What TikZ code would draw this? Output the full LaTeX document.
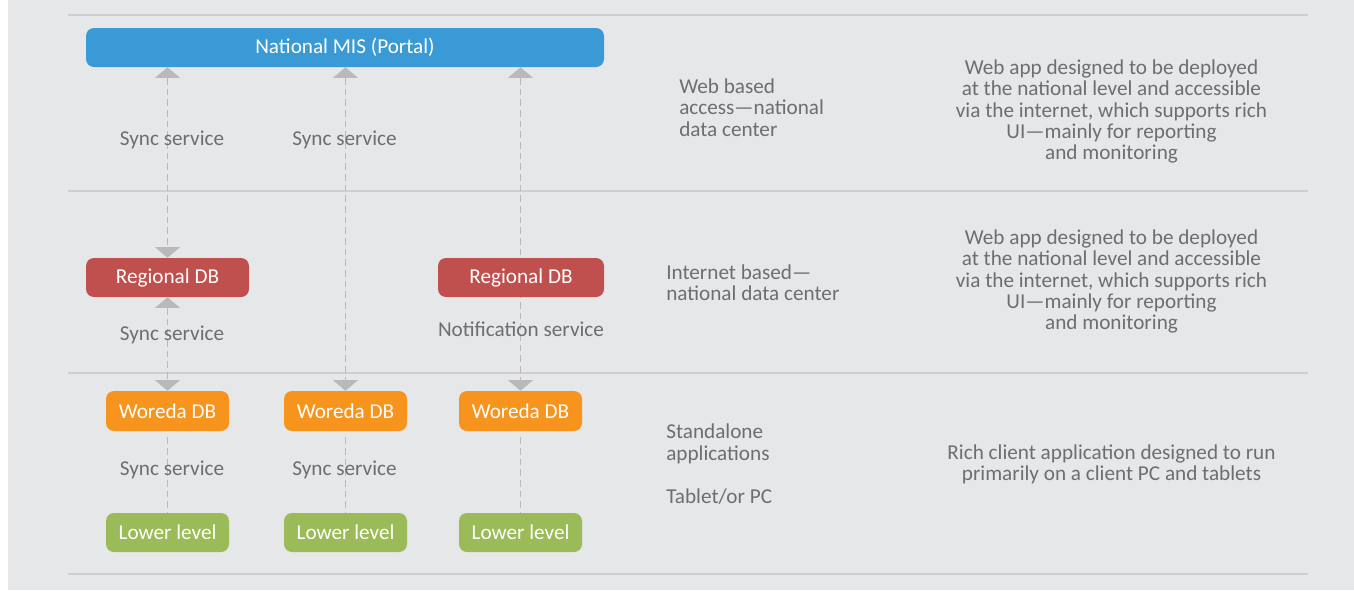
\documentclass[tikz,border=0pt]{standalone}
\usepackage{fontspec}
\setmainfont{Carlito}
\usetikzlibrary{arrows.meta}
\definecolor{bgc}{HTML}{E6E7E8}
\definecolor{rulec}{HTML}{CFCFD1}
\definecolor{txtc}{HTML}{6D6E71}
\definecolor{connc}{HTML}{B9B9BB}
\definecolor{bluec}{HTML}{3A9AD5}
\definecolor{redc}{HTML}{C0504D}
\definecolor{orangec}{HTML}{F7941E}
\definecolor{greenc}{HTML}{9BBB59}
\pgfdeclarelayer{bg}
\pgfsetlayers{bg,main}
\tikzset{
  box/.style={rounded corners=6pt, text=white, inner sep=0pt, font=\fontsize{15.9}{16.1}\selectfont},
  natbox/.style={box, fill=bluec, minimum width=388.5pt, minimum height=29.25pt},
  regbox/.style={box, fill=redc, minimum height=29.25pt},
  worbox/.style={box, fill=orangec, minimum width=92.25pt, minimum height=30pt},
  lowbox/.style={box, fill=greenc, minimum width=92.25pt, minimum height=29.25pt},
  lbl/.style={text=txtc, inner sep=0pt, font=\fontsize{15.9}{16.1}\selectfont},
  desc/.style={lbl, align=center},
  side/.style={lbl, align=left, anchor=west},
  conn/.style={draw=connc, line width=1.2pt, dash pattern=on 5pt off 3pt},
  tip/.tip={Triangle[width=19pt,length=8pt,line width=0pt]},
  twoway/.style={conn, tip-tip},
  sepline/.style={draw=rulec, line width=1.5pt},
}
\begin{document}
\begin{tikzpicture}[x=0.75pt, y=-0.75pt]
\useasboundingbox (0,0) rectangle (1354,590);
% separators
\coordinate (s1a) at (68,15);  \coordinate (s1b) at (1308,15);
\coordinate (s2a) at (68,191); \coordinate (s2b) at (1308,191);
\coordinate (s3a) at (68,373); \coordinate (s3b) at (1308,373);
\coordinate (s4a) at (68,574); \coordinate (s4b) at (1308,574);
% nodes
\node[natbox] (nat) at (345,47.5) {National MIS (Portal)};
\node[regbox, minimum width=122.25pt] (regL) at (167.5,277.5) {Regional DB};
\node[regbox, minimum width=124.5pt] (regR) at (521,277.5) {Regional DB};
\node[worbox] (w1) at (167.5,411) {Woreda DB};
\node[worbox] (w2) at (345.5,411) {Woreda DB};
\node[worbox] (w3) at (520.5,411) {Woreda DB};
\node[lowbox] (l1) at (167.5,532.5) {Lower level};
\node[lowbox] (l2) at (345.5,532.5) {Lower level};
\node[lowbox] (l3) at (520.5,532.5) {Lower level};
% background, separators and connectors
\begin{pgfonlayer}{bg}
\fill[bgc] (8,0) rectangle (1354,590);
\draw[sepline] (s1a) -- (s1b);
\draw[sepline] (s2a) -- (s2b);
\draw[sepline] (s3a) -- (s3b);
\draw[sepline] (s4a) -- (s4b);
\draw[twoway] (nat.south -| regL.north) -- (regL.north);
\draw[twoway] (regL.south) -- (w1.north);
\draw[twoway] (nat.south -| w2.north) -- (w2.north);
\draw[twoway] (nat.south -| w3.north) -- (w3.north);
\draw[conn, shorten <=4.5pt] (w1.south) -- (l1.north);
\draw[conn, shorten <=4.5pt] (w2.south) -- (l2.north);
\draw[conn, shorten <=4.5pt] (w3.south) -- (l3.north);
\end{pgfonlayer}
% connector labels
\node[lbl] (t1) at (172,140) {Sync service};
\node[lbl] (t2) at (344.5,140) {Sync service};
\node[lbl] (t3) at (172,335) {Sync service};
\node[lbl] (t4) at (521,329) {Notification service};
\node[lbl] (t5) at (172,470) {Sync service};
\node[lbl] (t6) at (344.5,470) {Sync service};
% side texts
\node[side] (a1) at (679,107.5) {Web based\\access—national\\data center};
\node[side] (a2) at (666,282.5) {Internet based—\\national data center};
\node[side] (a3) at (666,464) {Standalone\\applications\\[16pt]Tablet/or PC};
\node[desc] (d1) at (1111.5,111.5) {Web app designed to be deployed\\at the national level and accessible\\via the internet, which supports rich\\UI—mainly for reporting\\and monitoring};
\node[desc] (d2) at (1111.5,281.5) {Web app designed to be deployed\\at the national level and accessible\\via the internet, which supports rich\\UI—mainly for reporting\\and monitoring};
\node[desc] (d3) at (1111.5,464.5) {Rich client application designed to run\\primarily on a client PC and tablets};
\end{tikzpicture}
\end{document}
